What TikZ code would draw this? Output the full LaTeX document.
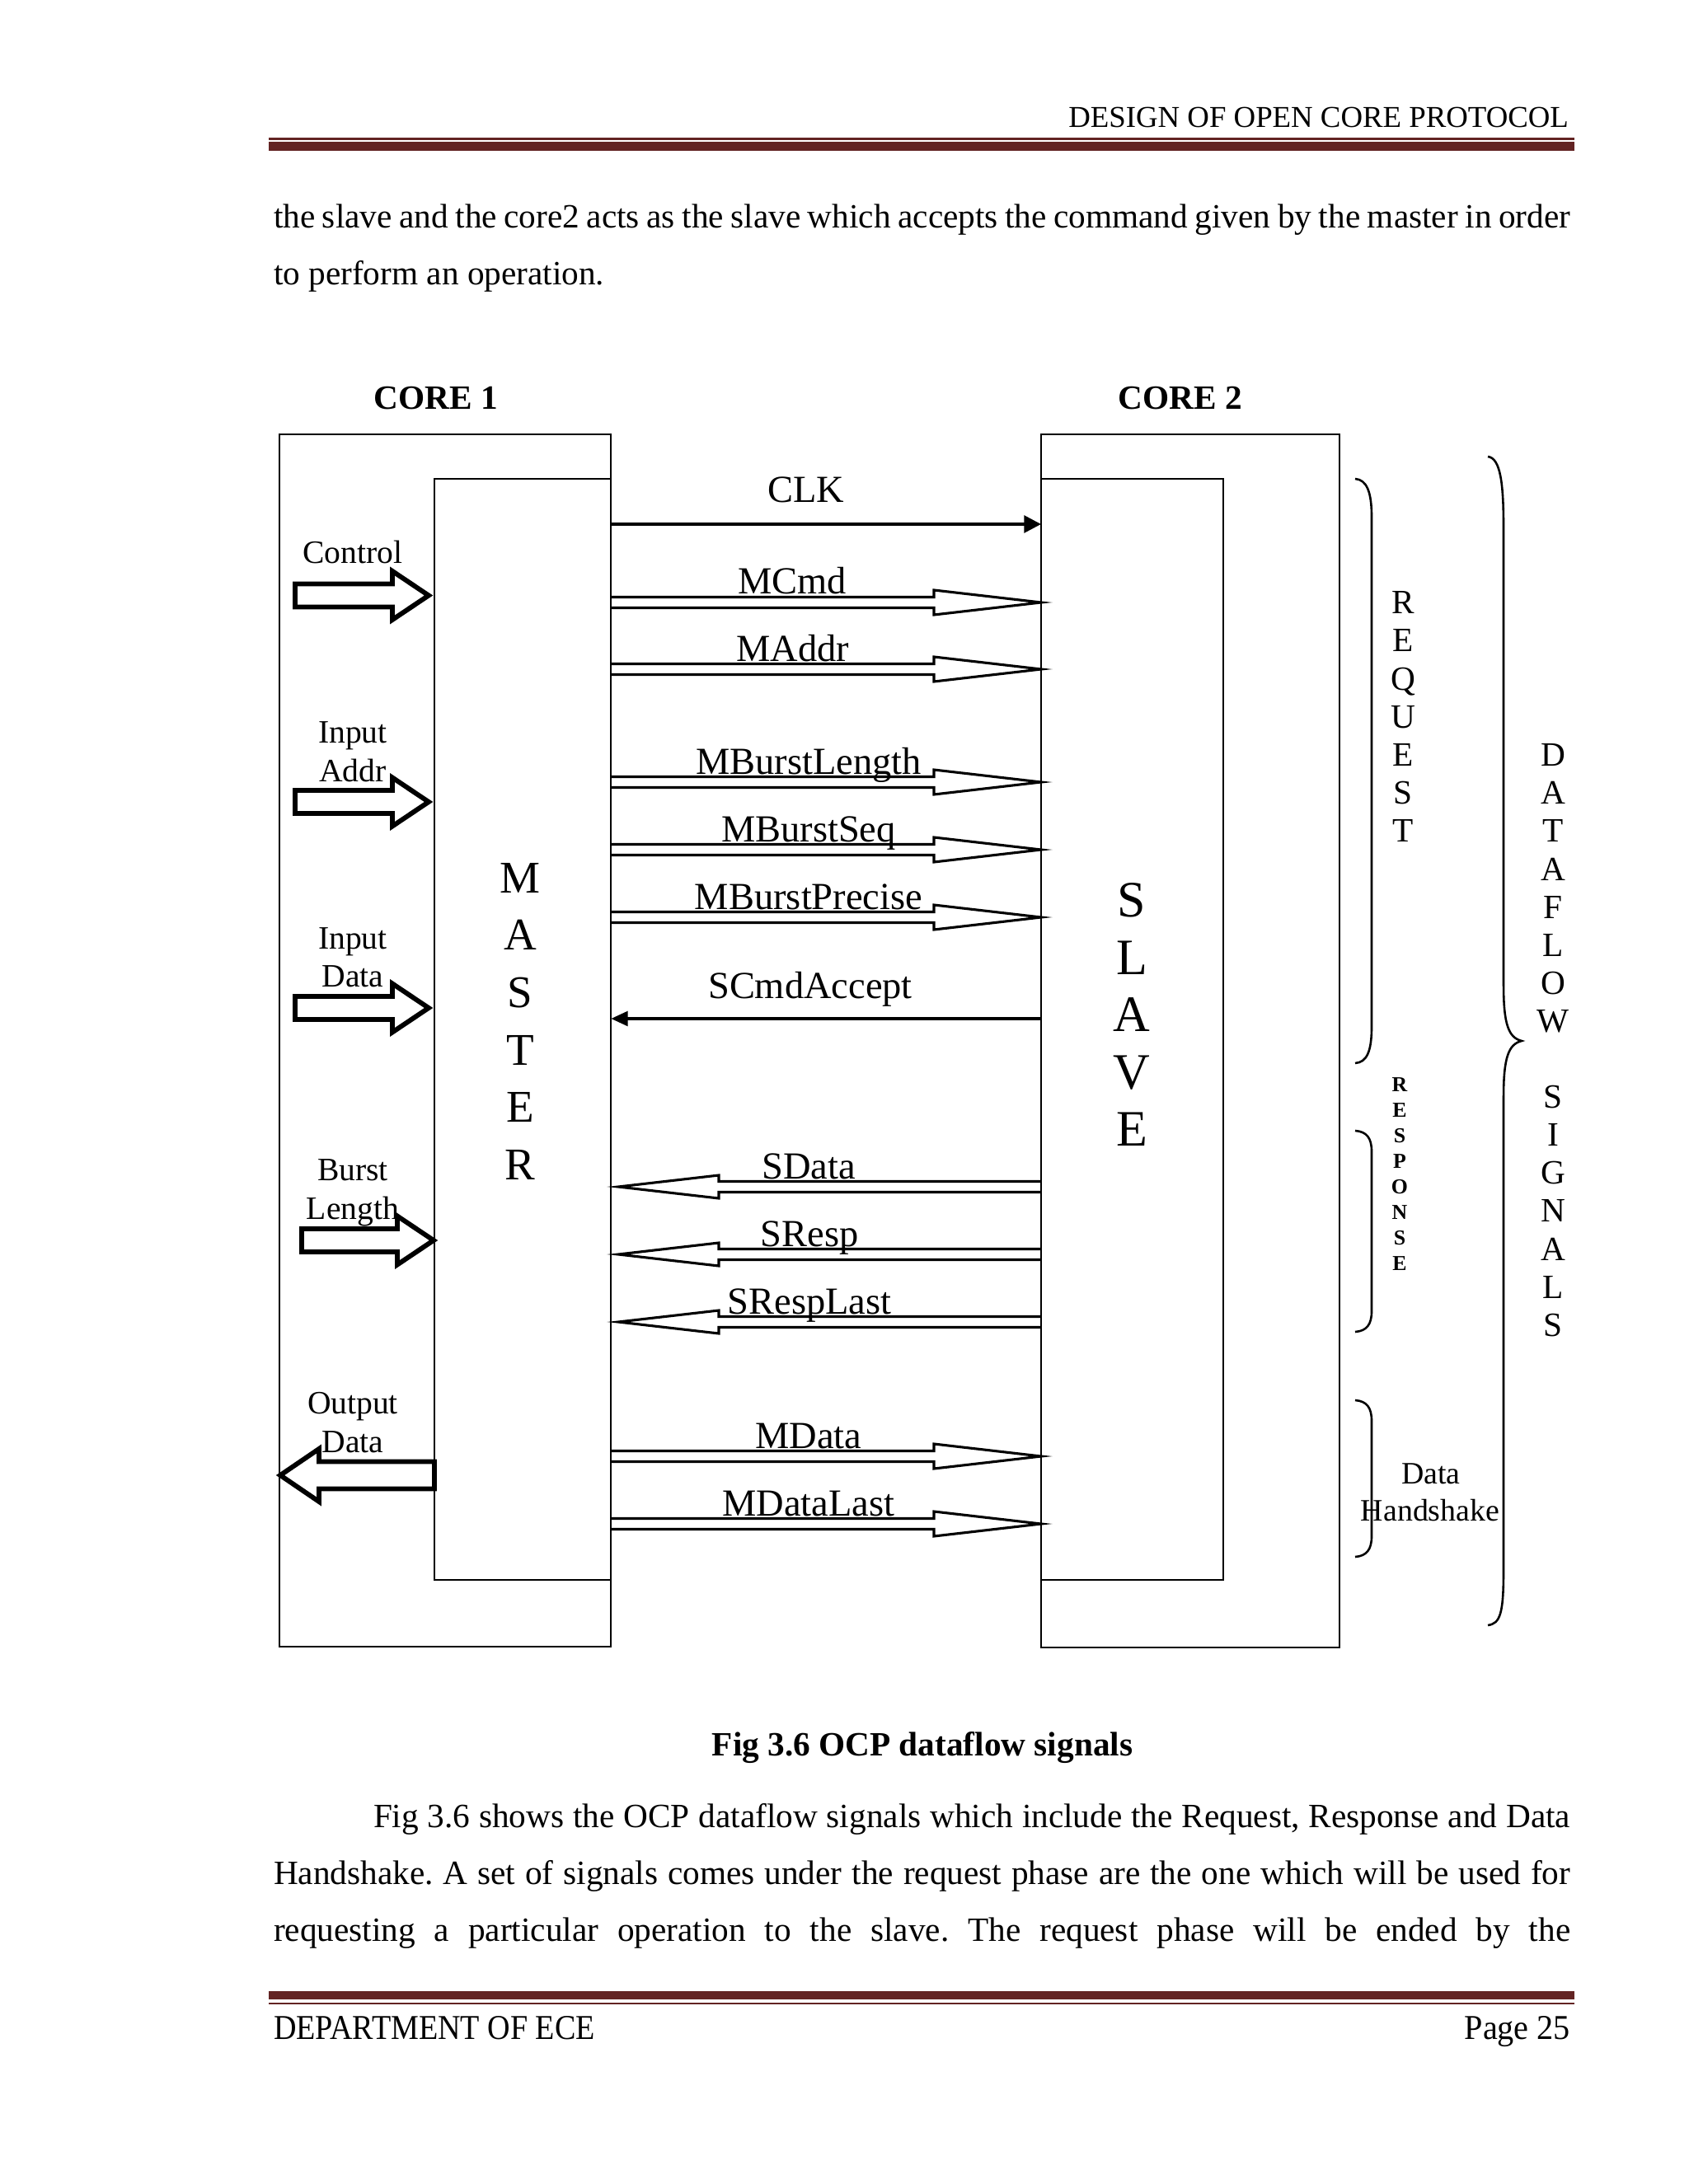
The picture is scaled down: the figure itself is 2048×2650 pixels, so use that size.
\documentclass[tikz,border=0pt]{standalone}
\usepackage{fontspec}
\setmainfont{Liberation Serif}
\usetikzlibrary{arrows.meta,fit}
\definecolor{maroon}{RGB}{99,36,35}
\frenchspacing
\newcommand\sigR[4]{%
  \draw[hol] (741,{#1-6.5}) -- (1133,{#1-6.5}) -- (1133,{#1-15}) -- (1263,#1) -- (1133,{#1+15}) -- (1133,{#1+6.5}) -- (741,{#1+6.5});
  \node[sig] (#4) at (#2,{#1-10}) {#3};}
\newcommand\sigL[4]{%
  \draw[hol] (1263,{#1-6.5}) -- (872,{#1-6.5}) -- (872,{#1-14}) -- (750,#1) -- (872,{#1+14}) -- (872,{#1+6.5}) -- (1263,{#1+6.5});
  \node[sig] (#4) at (#2,{#1-10}) {#3};}
\newcommand\blkR[3]{%
  \draw[blk] (#3,{#2-14}) -- ({#1-44},{#2-14}) -- ({#1-44},{#2-29.5}) -- (#1,#2) -- ({#1-44},{#2+29.5}) -- ({#1-44},{#2+14}) -- (#3,{#2+14}) -- cycle;}
\begin{document}
\begin{tikzpicture}[x=0.2907pt,y=-0.2907pt,
  box/.style={draw,line width=0.75pt,inner sep=0pt,outer sep=0pt},
  hol/.style={draw,line width=0.9pt,line join=miter},
  blk/.style={draw,line width=1.7pt,line join=miter,fill=white},
  brc/.style={draw,line width=0.75pt},
  txt/.style={inner sep=0pt,outer sep=0pt,anchor=base},
  sig/.style={txt,font=\fontsize{13.5pt}{15pt}\selectfont},
  lab/.style={txt,font=\fontsize{11.5pt}{13pt}\selectfont},
  body/.style={txt,anchor=base west,font=\fontsize{12pt}{14pt}\selectfont},
  big/.style={txt,font=\fontsize{12pt}{14pt}\selectfont},
  foot/.style={txt,font=\fontsize{12.3pt}{14pt}\selectfont},
  rule/.style={maroon,line cap=butt}]
\useasboundingbox[fill=white] (0,0) rectangle (2048,2650);

% header
\node[txt,anchor=base east,font=\fontsize{10.7pt}{12pt}\selectfont] (head) at (1903,155) {DESIGN OF OPEN CORE PROTOCOL};
\draw[rule,line width=0.6pt] (326,168.5) -- (1910,168.5);
\draw[rule,line width=3pt] (326,177.5) -- (1910,177.5);

% body text top
\node[body] (p1) at (332,277) {\makebox[457.3pt][s]{the slave and the core2 acts as the slave which accepts the command given by the master in order}};
\node[body] (p2) at (332,346) {to perform an operation.};

% core titles
\node[big,font=\bfseries\fontsize{12pt}{14pt}\selectfont] (c1t) at (529,497) {CORE 1};
\node[big,font=\bfseries\fontsize{12pt}{14pt}\selectfont] (c2t) at (1432,497) {CORE 2};

% boxes
\node[box,fit={(339,527)(741,1998)}] (core1) {};
\node[box,fit={(527,581)(741,1917)}] (master) {};
\node[box,fit={(1263,527)(1625,1999)}] (core2) {};
\node[box,fit={(1263,581)(1484,1917)}] (slave) {};

% MASTER / SLAVE letters
\foreach \l [count=\i from 0] in {M,A,S,T,E,R}
  \node[txt,font=\fontsize{16pt}{16pt}\selectfont] (ml\i) at (631,{1083.2+69.6*\i}) {\l};
\foreach \l [count=\i from 0] in {S,L,A,V,E}
  \node[txt,font=\fontsize{18pt}{18pt}\selectfont] (sl\i) at (1373,{1112.5+69.5*\i}) {\l};

% CLK
\coordinate (clkA) at (741,636);
\coordinate (clkB) at (1263,636);
\draw[line width=1.1pt,-{Triangle[length=6pt,width=6pt]}] (clkA) -- (clkB);
\node[sig] (clk) at (978,610) {CLK};

% request signals
\sigR{731}{961}{MCmd}{mcmd}
\sigR{812}{962}{MAddr}{maddr}
\sigR{949}{981}{MBurstLength}{mbl}
\sigR{1031}{981}{MBurstSeq}{mbs}
\sigR{1113}{981}{MBurstPrecise}{mbp}

% SCmdAccept
\coordinate (scaA) at (1263,1236);
\coordinate (scaB) at (741,1236);
\draw[line width=1.4pt,-{Triangle[length=6pt,width=5pt]}] (scaA) -- (scaB);
\node[sig] (sca) at (983,1211) {SCmdAccept};

% response signals
\sigL{1440}{981}{SData}{sdata}
\sigL{1522}{982}{SResp}{sresp}
\sigL{1604}{982}{SRespLast}{srl}

% data handshake signals
\sigR{1767}{981}{MData}{mdata}
\sigR{1849}{981}{MDataLast}{mdl}

% left block arrows and labels
\blkR{520}{722.5}{358}
\node[lab] (lctl) at (428,683) {Control};
\blkR{520}{973}{358}
\node[lab] (lin1) at (428,901) {Input};
\node[lab] (laddr) at (428,948) {Addr};
\blkR{520}{1223}{358}
\node[lab] (lin2) at (428,1151) {Input};
\node[lab] (ldat) at (428,1197) {Data};
\blkR{526}{1505}{366}
\node[lab] (lbur) at (428,1432) {Burst};
\node[lab] (llen) at (428,1479) {Length};
\draw[blk] (527,1773.5) -- (387,1773.5) -- (387,1758) -- (340,1790) -- (387,1822) -- (387,1806.5) -- (527,1806.5) -- cycle;
\node[lab] (lout) at (428,1715) {Output};
\node[lab] (lodat) at (428,1762) {Data};

% braces
\draw[brc] (1644,581) .. controls (1658,582) and (1664,597) .. (1664,627) -- (1664,1246) .. controls (1664,1276) and (1658,1289) .. (1644,1290);
\draw[brc] (1644,1372) .. controls (1658,1373) and (1664,1381) .. (1664,1397) -- (1664,1591) .. controls (1664,1607) and (1658,1615) .. (1644,1616);
\draw[brc] (1644,1699) .. controls (1658,1700) and (1664,1708) .. (1664,1724) -- (1664,1864) .. controls (1664,1880) and (1658,1888) .. (1644,1889);
\draw[brc] (1805,554) .. controls (1820,556) and (1824,585) .. (1824,640) -- (1824,1195) .. controls (1824,1243) and (1830,1259) .. (1846,1263) .. controls (1830,1267) and (1824,1283) .. (1824,1331) -- (1824,1905) .. controls (1824,1958) and (1820,1970) .. (1805,1972);

% REQUEST
\foreach \l [count=\i from 0] in {R,E,Q,U,E,S,T}
  \node[big] (rq\i) at (1702,{744.7+46.2*\i}) {\l};
% RESPONSE
\foreach \l [count=\i from 0] in {R,E,S,P,O,N,S,E}
  \node[txt,font=\bfseries\fontsize{7.5pt}{8pt}\selectfont] (rs\i) at (1698,{1324.5+31*\i}) {\l};
% DATAFLOW SIGNALS
\foreach \l [count=\i from 0] in {D,A,T,A,F,L,O,W}
  \node[big] (df\i) at (1884,{929.7+46.1*\i}) {\l};
\foreach \l [count=\i from 9] in {S,I,G,N,A,L,S}
  \node[big] (sg\i) at (1884,{929.7+46.1*\i}) {\l};
% Data Handshake
\node[txt,font=\fontsize{11pt}{13pt}\selectfont] (dhs1) at (1736,1800) {Data};
\node[txt,font=\fontsize{11pt}{13pt}\selectfont] (dhs2) at (1735,1845) {Handshake};

% caption
\node[big,font=\bfseries\fontsize{12pt}{14pt}\selectfont] (cap) at (1119,2130) {Fig 3.6 OCP dataflow signals};

% body text bottom
\node[body] (q1) at (453,2217) {\makebox[422.1pt][s]{Fig 3.6 shows the OCP dataflow signals which include the Request, Response and Data}};
\node[body] (q2) at (332,2286) {\makebox[457.3pt][s]{Handshake. A set of signals comes under the request phase are the one which will be used for}};
\node[body] (q3) at (332,2355) {\makebox[457.3pt][s]{requesting a particular operation to the slave. The request phase will be ended by the}};

% footer
\draw[rule,line width=3pt] (326,2421) -- (1910,2421);
\draw[rule,line width=0.6pt] (326,2431) -- (1910,2431);
\node[foot,anchor=base west] (foot1) at (332,2474) {\scalebox{0.9}[1]{DEPARTMENT OF ECE}};
\node[foot,anchor=base east] (foot2) at (1905,2474) {\scalebox{0.95}[1]{Page 25}};
\end{tikzpicture}
\end{document}
